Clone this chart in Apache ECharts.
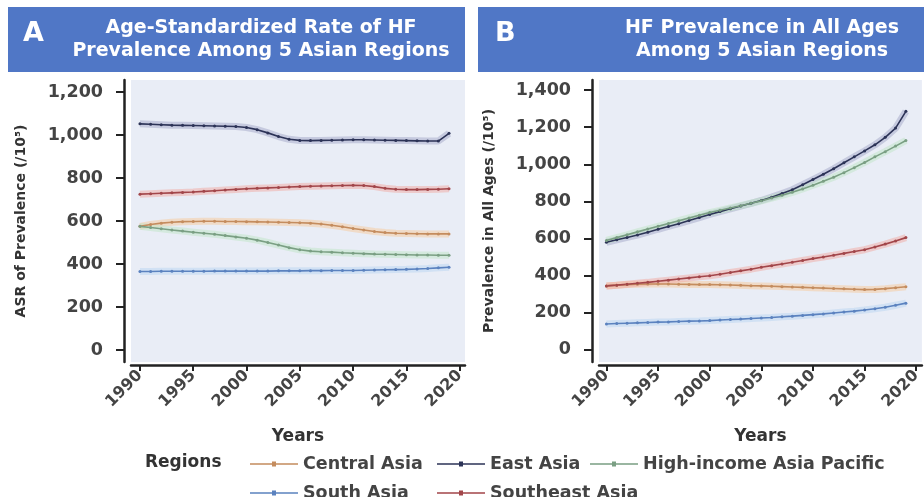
<!DOCTYPE html>
<html>
<head>
<meta charset="utf-8">
<script src="https://cdn.jsdelivr.net/npm/echarts@6/dist/echarts.min.js"></script>
<style>html,body{margin:0;padding:0;background:#fff}#c{width:924px;height:497px}</style>
</head>
<body>
<div id="c"></div>
<script>
const years = [1990,1991,1992,1993,1994,1995,1996,1997,1998,1999,2000,2001,2002,2003,2004,2005,2006,2007,2008,2009,2010,2011,2012,2013,2014,2015,2016,2017,2018,2019];
const regions = ["Central Asia","East Asia","High-income Asia Pacific","South Asia","Southeast Asia"];
const xTicks = [1990,1995,2000,2005,2010,2015,2020];
const yTicksA = [0,200,400,600,800,1000,1200];
const yTicksB = [0,200,400,600,800,1000,1200,1400];

// Panel A: age-standardized prevalence rate (/10^5)
const asrCentralAsia = [575,584,590,594,597,598,599,599,598,598,597,596,595,594,593,592,590,586,580,573,565,558,551,546,543,542,541,540,540,540];
const asrEastAsia = [1052,1050,1048,1046,1045,1044,1043,1042,1041,1040,1035,1025,1010,993,980,975,974,975,976,977,978,978,977,976,975,974,973,972,972,1008];
const asrHighIncomeAP = [575,570,564,558,553,548,543,538,532,526,520,511,500,488,476,466,460,457,455,452,450,448,446,445,444,443,442,442,441,441];
const asrSouthAsia = [365,365,366,366,366,366,366,367,367,367,367,367,367,368,368,368,369,369,370,370,370,371,372,373,374,375,377,379,382,385];
const asrSoutheastAsia = [725,727,729,731,733,735,738,741,744,747,750,752,754,756,758,760,762,763,764,765,766,765,760,752,748,746,746,747,748,750];

// Panel B: prevalence in all ages (/10^5)
const allCentralAsia = [345,349,352,354,355,355,355,354,353,352,352,351,350,348,346,345,343,341,339,337,335,333,331,329,327,325,326,330,335,340];
const allEastAsia = [580,593,606,619,634,650,665,680,697,713,730,745,760,775,790,805,823,843,863,890,918,946,976,1008,1040,1072,1105,1145,1195,1285];
const allHighIncomeAP = [590,605,620,636,651,666,681,696,711,726,740,752,765,777,790,803,818,833,849,867,887,908,930,955,982,1010,1040,1068,1098,1128];
const allSouthAsia = [140,142,144,146,148,150,151,153,155,156,158,161,164,166,169,172,175,179,182,186,190,194,199,204,209,215,222,230,241,252];
const allSoutheastAsia = [345,349,354,359,364,370,376,382,388,394,400,408,417,426,435,445,454,463,472,482,492,501,510,520,530,540,555,570,587,605];

const seriesA = [asrCentralAsia, asrEastAsia, asrHighIncomeAP, asrSouthAsia, asrSoutheastAsia];
const seriesB = [allCentralAsia, allEastAsia, allHighIncomeAP, allSouthAsia, allSoutheastAsia];

const lineColors = ['#c48c5e','#2c3357','#7a9f83','#5b82bf','#a2464a'];
const bandColors = ['#f7c999','#a3a8c8','#bfe6c6','#b9d6f2','#f2aaa2'];

const FONT = 'DejaVu Sans';
const pair = arr => years.map((y,i)=>[y,arr[i]]);
const fmt = v => Number(v).toLocaleString('en-US');

function xAxisCfg(gi, min, max){
  return {
    type:'value', gridIndex:gi, min:min, max:max, offset:3,
    name:'Years', nameLocation:'middle', nameGap:63,
    nameTextStyle:{fontFamily:FONT, fontSize:17, fontWeight:'bold', color:'#333'},
    axisLine:{show:true, onZero:false, lineStyle:{color:'#222', width:2.5}},
    axisTick:{show:true, length:6, lineStyle:{color:'#222', width:2}, customValues:xTicks},
    axisLabel:{customValues:xTicks, rotate:45, margin:8, fontFamily:FONT, fontSize:16, fontWeight:'bold', color:'#444', formatter:v=>String(v)},
    splitLine:{show:false}
  };
}
function yAxisCfg(gi, min, max, ticks, name){
  return {
    type:'value', gridIndex:gi, min:min, max:max, offset:7,
    name:name, nameLocation:'middle', nameGap:96, nameRotate:90,
    nameTextStyle:{fontFamily:FONT, fontSize:14, fontWeight:'bold', color:'#333'},
    axisLine:{show:true, lineStyle:{color:'#222', width:2.5}},
    axisTick:{show:true, length:8, lineStyle:{color:'#222', width:2}, customValues:ticks},
    axisLabel:{customValues:ticks, margin:21, fontFamily:FONT, fontSize:17.5, fontWeight:'bold', color:'#444', formatter:fmt},
    splitLine:{show:false}
  };
}

const series = [];
[seriesA, seriesB].forEach((set, gi)=>{
  set.forEach((arr, k)=>{
    series.push({
      name:regions[k], type:'line', xAxisIndex:gi, yAxisIndex:gi, data:pair(arr),
      symbol:'circle', symbolSize:3, showSymbol:true,
      lineStyle:{color:lineColors[k], width:1.6}, itemStyle:{color:lineColors[k]},
      z:3, animation:false
    });
  });
});
[seriesA, seriesB].forEach((set, gi)=>{
  set.forEach((arr, k)=>{
    series.push({
      name:regions[k], type:'line', xAxisIndex:gi, yAxisIndex:gi, data:pair(arr),
      symbol:'none', silent:true,
      lineStyle:{color:bandColors[k], width:7, opacity:0.5},
      z:2, animation:false
    });
  });
});

const legendIcon = 'path://M0,5.3L48,5.3L48,6.7L0,6.7Z M22,3.5L26,3.5L26,8.5L22,8.5Z';
const legendPos = [[245,450],[432,450],[585,450],[245,479],[432,479]];
const legends = regions.map((r,i)=>({
  data:[r], left:legendPos[i][0], top:legendPos[i][1], itemWidth:48, itemHeight:12, icon:legendIcon,
  textStyle:{fontFamily:FONT, fontSize:17.5, fontWeight:'bold', color:'#444'}
}));

const chart = echarts.init(document.getElementById('c'), null, {renderer:'canvas'});
chart.setOption({
  animation:false,
  backgroundColor:'#fff',
  grid:[
    {left:131, top:80, width:334, height:282, show:true, backgroundColor:'#e9edf6', borderWidth:0},
    {left:599, top:80, width:334, height:282, show:true, backgroundColor:'#e9edf6', borderWidth:0}
  ],
  xAxis:[xAxisCfg(0, 1989.16, 2020.5), xAxisCfg(1, 1989.28, 2020.55)],
  yAxis:[
    yAxisCfg(0, -56, 1256, yTicksA, 'ASR of Prevalence (/10\u2075)'),
    yAxisCfg(1, -65, 1454, yTicksB, 'Prevalence in All Ages (/10\u2075)')
  ],
  legend:legends,
  graphic:[
    {type:'rect', left:8, top:7, shape:{width:457, height:65}, style:{fill:'#5077c6'}},
    {type:'rect', left:478, top:7, shape:{width:450, height:65}, style:{fill:'#5077c6'}},
    {type:'text', left:23, top:20, style:{text:'A', fill:'#fff', font:'bold 27px "DejaVu Sans"'}},
    {type:'text', left:495, top:20, style:{text:'B', fill:'#fff', font:'bold 27px "DejaVu Sans"'}},
    {type:'text', x:261, y:40, style:{text:'Age-Standardized Rate of HF\nPrevalence Among 5 Asian Regions', fill:'#fff', align:'center', verticalAlign:'middle', lineHeight:23, font:'bold 19px "DejaVu Sans"'}},
    {type:'text', x:762, y:40, style:{text:'HF Prevalence in All Ages\nAmong 5 Asian Regions', fill:'#fff', align:'center', verticalAlign:'middle', lineHeight:23, font:'bold 19px "DejaVu Sans"'}},
    {type:'text', left:145, top:454, style:{text:'Regions', fill:'#333', font:'bold 17px "DejaVu Sans"'}}
  ],
  series:series
});
</script>
</body>
</html>
